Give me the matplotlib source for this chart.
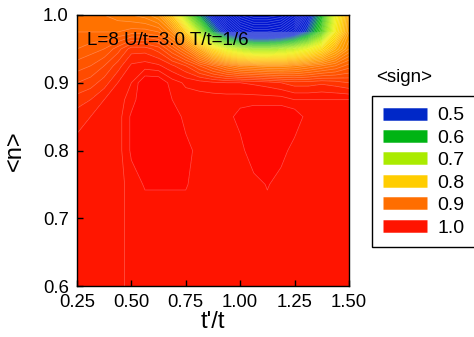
import matplotlib
matplotlib.use("Agg")
import matplotlib.pyplot as plt
from matplotlib.colors import LinearSegmentedColormap
from matplotlib.lines import Line2D
import numpy as np

plt.rcParams['font.family'] = ['Liberation Sans', 'DejaVu Sans']

# t'/t grid (columns) and <n> grid (rows)
t_ratio = [0.25, 0.3125, 0.375, 0.4375, 0.5, 0.5625, 0.625, 0.6875, 0.75, 0.8125, 0.875,
           0.9375, 1.0, 1.0625, 1.125, 1.1875, 1.25, 1.3125, 1.375, 1.4375, 1.5]
density = [0.6, 0.65, 0.7, 0.75, 0.8, 0.85, 0.875, 0.9, 0.925, 0.95, 0.975, 1.0]

# <sign>, one row per density value (bottom to top)
sign_rows = [
    [0.975, 0.975, 0.975, 0.975, 0.985, 0.985, 0.985, 0.985, 0.985, 0.985, 0.985,
     0.985, 0.985, 0.985, 0.985, 0.985, 0.985, 0.985, 0.985, 0.985, 0.985],
    [0.975, 0.975, 0.975, 0.975, 0.985, 0.985, 0.985, 0.985, 0.985, 0.985, 0.985,
     0.985, 0.985, 0.985, 0.985, 0.985, 0.985, 0.985, 0.985, 0.985, 0.985],
    [0.975, 0.975, 0.975, 0.975, 0.985, 0.985, 0.985, 0.985, 0.985, 0.985, 0.985,
     0.985, 0.985, 0.985, 0.985, 0.985, 0.985, 0.985, 0.985, 0.985, 0.985],
    [0.975, 0.975, 0.975, 0.975, 0.985, 0.991, 0.991, 0.991, 0.991, 0.985, 0.985,
     0.985, 0.985, 0.985, 0.991, 0.985, 0.985, 0.985, 0.985, 0.985, 0.985],
    [0.975, 0.975, 0.975, 0.975, 0.992, 1.0, 1.0, 1.0, 0.995, 0.985, 0.985,
     0.985, 0.985, 1.0, 1.0, 0.995, 0.985, 0.985, 0.985, 0.985, 0.985],
    [0.965, 0.97, 0.975, 0.975, 0.992, 1.0, 1.0, 1.0, 0.985, 0.985, 0.985,
     0.985, 0.995, 1.0, 1.0, 1.0, 0.998, 0.985, 0.985, 0.985, 0.985],
    [0.955, 0.96, 0.97, 0.975, 0.985, 1.0, 1.0, 0.99, 0.985, 0.985, 0.985,
     0.985, 0.985, 0.985, 0.985, 0.985, 0.98, 0.98, 0.98, 0.98, 0.98],
    [0.94, 0.945, 0.955, 0.97, 0.98, 1.0, 1.0, 0.985, 0.978, 0.975, 0.972,
     0.97, 0.97, 0.968, 0.965, 0.96, 0.955, 0.955, 0.958, 0.955, 0.95],
    [0.925, 0.93, 0.94, 0.955, 0.972, 0.975, 0.972, 0.962, 0.95, 0.93, 0.91,
     0.89, 0.875, 0.87, 0.865, 0.865, 0.87, 0.88, 0.89, 0.9, 0.915],
    [0.91, 0.915, 0.92, 0.935, 0.955, 0.955, 0.945, 0.92, 0.89, 0.84, 0.78,
     0.73, 0.7, 0.68, 0.68, 0.69, 0.71, 0.74, 0.78, 0.83, 0.87],
    [0.9, 0.9, 0.9, 0.9, 0.905, 0.905, 0.9, 0.87, 0.8, 0.69, 0.58,
     0.5, 0.45, 0.43, 0.43, 0.44, 0.48, 0.55, 0.64, 0.76, 0.85],
    [0.89, 0.89, 0.89, 0.885, 0.88, 0.875, 0.86, 0.8, 0.68, 0.58, 0.5,
     0.43, 0.38, 0.36, 0.36, 0.37, 0.41, 0.5, 0.6, 0.74, 0.84],
]

legend_values = ['0.5', '0.6', '0.7', '0.8', '0.9', '1.0']
legend_colors = ['#0028c8', '#00b414', '#aaeb00', '#ffcd00', '#ff6e00', '#ff1400']

cmap = LinearSegmentedColormap.from_list('sign', [
    (0.0, '#0014d2'),
    (0.06, '#0020d0'),
    (0.2, '#00b414'),
    (0.4, '#aaeb00'),
    (0.5, '#f0f000'),
    (0.6, '#ffcd00'),
    (0.8, '#ff6e00'),
    (0.9, '#ff3c00'),
    (0.95, '#ff1600'),
    (0.98, '#ff1400'),
    (1.0, '#ff0000'),
])
cmap.set_under('#0014d2')

X, Y = np.meshgrid(t_ratio, density)
Z = np.array(sign_rows)
levels = np.arange(0.35, 1.0051, 0.01)

fig = plt.figure(figsize=(4.74, 3.37), dpi=100)
ax = fig.add_axes([0.1624, 0.1513, 0.5738, 0.8042])

ax.contourf(X, Y, Z, levels=levels, cmap=cmap, vmin=0.5, vmax=1.0)
ax.contour(X, Y, Z, levels=levels, colors='white', linewidths=0.5, alpha=0.3)

ax.set_xlim(0.25, 1.5)
ax.set_ylim(0.6, 1.0)
ax.set_xticks([0.25, 0.5, 0.75, 1.0, 1.25, 1.5])
ax.set_xticklabels(['0.25', '0.50', '0.75', '1.00', '1.25', '1.50'])
ax.set_yticks([0.6, 0.7, 0.8, 0.9, 1.0])
ax.set_yticklabels(['0.6', '0.7', '0.8', '0.9', '1.0'])
ax.tick_params(direction='in', length=4, width=1, labelsize=13.3, pad=6,
               top=False, right=False)
ax.set_xlabel("t'/t", fontsize=17, labelpad=0)
ax.set_ylabel('<n>', fontsize=17, labelpad=12)
for s in ax.spines.values():
    s.set_linewidth(1)

ax.text(0.296, 0.962, 'L=8 U/t=3.0 T/t=1/6', fontsize=13.5, va='center')

handles = [Line2D([], [], color=c, lw=9, solid_capstyle='butt') for c in legend_colors]
leg = fig.legend(handles, legend_values, loc='upper left',
                 bbox_to_anchor=(372 / 474, 1 - 96 / 337), borderaxespad=0,
                 fontsize=14, handlelength=2.3, labelspacing=0.25,
                 handletextpad=0.5, borderpad=0.55, fancybox=False,
                 edgecolor='black', framealpha=1)
leg.get_frame().set_linewidth(1)
fig.text(376 / 474, 1 - 77 / 337, '<sign>', fontsize=13.5, va='center')

fig.savefig('out.png', dpi=100)
